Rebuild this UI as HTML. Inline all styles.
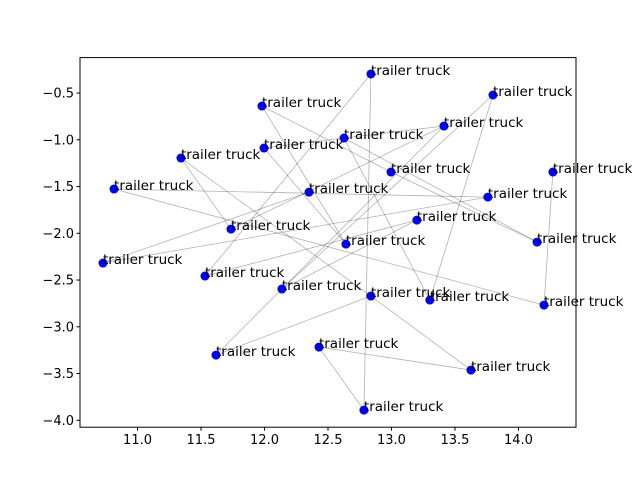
<!DOCTYPE html>
<html><head><meta charset="utf-8"><style>body{margin:0;background:#fff}svg{display:block}</style></head>
<body>
<svg id="chart" width="640" height="480" xmlns="http://www.w3.org/2000/svg" font-family="DejaVu Sans, Liberation Sans, sans-serif">
<rect width="640" height="480" fill="#fff"/>
<g id="edges"></g><g id="pts"></g><g id="labels"></g><g id="axes"></g>
</svg>
<script>
const xs=[12.838,13.799,11.98,13.413,12.626,11.996,11.342,12.996,14.271,10.815,12.35,13.759,11.736,13.2,14.146,12.641,10.728,11.531,12.137,12.838,13.302,14.201,11.618,12.429,13.626,12.783];
const ys=[-0.296,-0.521,-0.639,-0.853,-0.981,-1.088,-1.195,-1.345,-1.345,-1.527,-1.56,-1.613,-1.955,-1.859,-2.094,-2.116,-2.318,-2.457,-2.596,-2.671,-2.714,-2.768,-3.303,-3.217,-3.463,-3.891];
const labels=Array(26).fill("trailer truck");
const edgeFrom=[0,0,1,1,3,3,22,17,16,16,9,9,6,6,2,2,5,5,4,7,4,8,23,23,19,12,13];
const edgeTo=[25,17,20,18,4,22,19,13,10,11,11,21,12,19,15,7,15,4,14,14,20,21,25,24,24,3,18];
const xTicks=[11.0,11.5,12.0,12.5,13.0,13.5,14.0];
const yTicks=[-0.5,-1.0,-1.5,-2.0,-2.5,-3.0,-3.5,-4.0];
const L=80,R=576,T=57.6,B=427.2,xmin=10.547,xmax=14.453,ymin=-4.074,ymax=-0.121;
const X=v=>L+(v-xmin)/(xmax-xmin)*(R-L);
const Y=v=>B-(v-ymin)/(ymax-ymin)*(B-T);
const NS="http://www.w3.org/2000/svg";
function mk(t,a,p){const e=document.createElementNS(NS,t);for(const k in a)e.setAttribute(k,a[k]);p.appendChild(e);return e;}
const ge=document.getElementById('edges'),gp=document.getElementById('pts'),gl=document.getElementById('labels'),ga=document.getElementById('axes');
edgeFrom.forEach((a,i)=>{const b=edgeTo[i];
const e=mk('line',{x1:X(xs[a]),y1:Y(ys[a]),x2:X(xs[b]),y2:Y(ys[b]),stroke:'#000','stroke-opacity':0.3,'stroke-width':0.8},ge);

});
xs.forEach((v,i)=>{
const c=mk('circle',{cx:X(v),cy:Y(ys[i]),r:4.5,fill:'#0000ff'},gp);


const t=mk('text',{x:X(v),y:Y(ys[i])+1,'font-size':'13.5px',fill:'#000'},gl);t.textContent=labels[i];

});
const fr=mk('rect',{x:L,y:T,width:R-L,height:B-T,fill:'none',stroke:'#000','stroke-width':1},ga);


xTicks.forEach(v=>{const x=X(v);mk('line',{x1:x,x2:x,y1:B,y2:B+3.5,stroke:'#000'},ga);
const t=mk('text',{x:x,y:B+17,'font-size':'13px','text-anchor':'middle'},ga);t.textContent=v.toFixed(1);

});
yTicks.forEach(v=>{const y=Y(v);mk('line',{x1:L-3.5,x2:L,y1:y,y2:y,stroke:'#000'},ga);
const t=mk('text',{x:L-6,y:y+4.5,'font-size':'13px','text-anchor':'end'},ga);t.textContent='\u2212'+Math.abs(v).toFixed(1);

});
</script>
</body></html>
